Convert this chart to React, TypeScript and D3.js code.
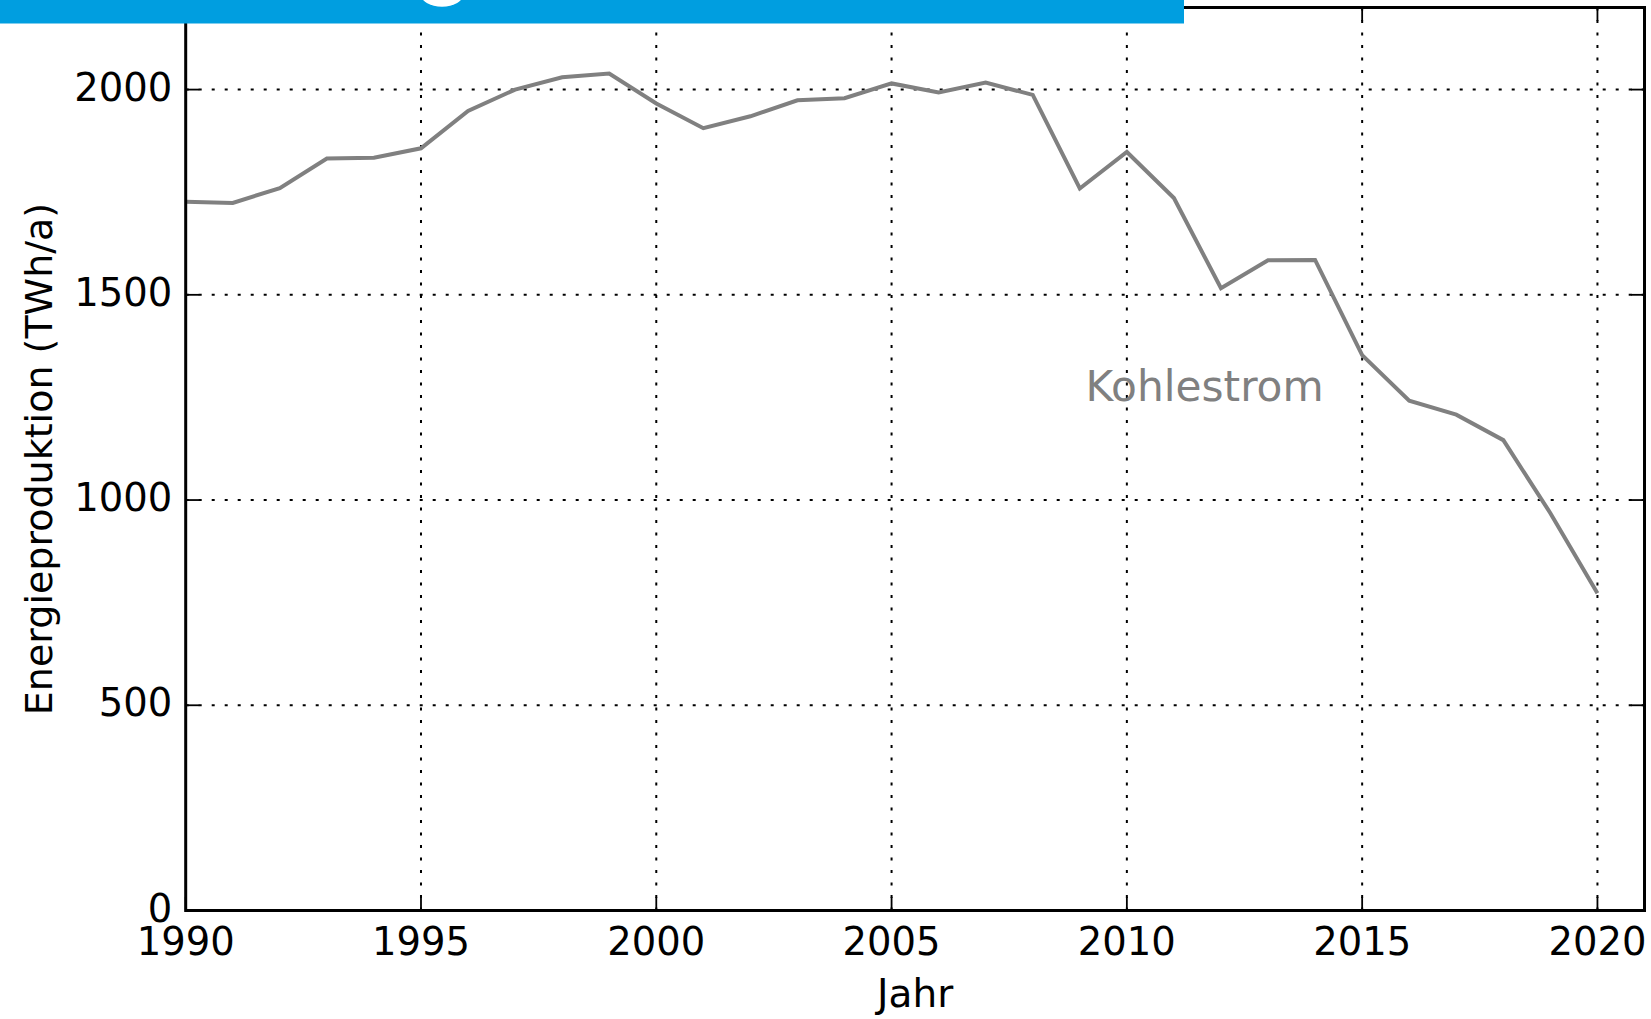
import React from "react";
import * as d3 from "d3";

const years: number[] = [
  1990, 1991, 1992, 1993, 1994, 1995, 1996, 1997, 1998, 1999,
  2000, 2001, 2002, 2003, 2004, 2005, 2006, 2007, 2008, 2009,
  2010, 2011, 2012, 2013, 2014, 2015, 2016, 2017, 2018, 2019, 2020,
];
const kohlestrom: number[] = [
  1727, 1724, 1760, 1832, 1834, 1857, 1948, 2000, 2030, 2039,
  1966, 1906, 1935, 1974, 1979, 2015, 1993, 2017, 1987, 1759,
  1848, 1736, 1516, 1584, 1585, 1353, 1242, 1208, 1146, 968, 773,
];
const xTicks: number[] = [1990, 1995, 2000, 2005, 2010, 2015, 2020];
const yTicks: number[] = [0, 500, 1000, 1500, 2000];
const seriesLabel = "Kohlestrom";
const xLabel = "Jahr";
const yLabel = "Energieproduktion (TWh/a)";

const W = 1651;
const H = 1019;
const left = 185.7;
const right = 1644.5;
const top = 7.5;
const bottom = 910.5;
const FONT = "'DejaVu Sans', sans-serif";

export default function App() {
  const x = d3.scaleLinear().domain([1990, 2021]).range([left, right]);
  const y = d3.scaleLinear().domain([0, 2200]).range([bottom, top]);
  const data = years.map((yr, i) => [yr, kohlestrom[i]] as [number, number]);
  const line = d3
    .line<[number, number]>()
    .x((d) => x(d[0]))
    .y((d) => y(d[1]));

  const tickLen = 13.5;

  return (
    <svg
      width={W}
      height={H}
      style={{ position: "absolute", left: 0, top: 0, background: "#fff" }}
      fontFamily={FONT}
    >
      <rect x={0} y={0} width={W} height={H} fill="#fff" />
      {/* grid */}
      {xTicks
        .filter((t) => t !== 1990)
        .map((t) => (
          <line
            key={"gx" + t}
            x1={x(t)}
            x2={x(t)}
            y1={bottom}
            y2={top}
            stroke="#000"
            strokeWidth={2}
            strokeDasharray="3,9.5"
          />
        ))}
      {yTicks
        .filter((t) => t !== 0)
        .map((t) => (
          <line
            key={"gy" + t}
            x1={left}
            x2={right}
            y1={y(t)}
            y2={y(t)}
            stroke="#000"
            strokeWidth={2}
            strokeDasharray="3,10"
          />
        ))}
      {/* ticks */}
      {xTicks.map((t) => (
        <g key={"tx" + t}>
          <line x1={x(t)} x2={x(t)} y1={bottom} y2={bottom - tickLen} stroke="#000" strokeWidth={1.8} />
          <line x1={x(t)} x2={x(t)} y1={top} y2={top + tickLen} stroke="#000" strokeWidth={1.8} />
          <text x={x(t)} y={bottom + 44.5} textAnchor="middle" fontSize={38.5} fill="#000">
            {t}
          </text>
        </g>
      ))}
      {yTicks.map((t) => (
        <g key={"ty" + t}>
          <line x1={left} x2={left + tickLen} y1={y(t)} y2={y(t)} stroke="#000" strokeWidth={1.8} />
          <line x1={right} x2={right - tickLen} y1={y(t)} y2={y(t)} stroke="#000" strokeWidth={1.8} />
          <text x={left - 13.5} y={y(t) + 11} textAnchor="end" fontSize={38.5} fill="#000">
            {t}
          </text>
        </g>
      ))}
      {/* data line */}
      <path
        d={line(data) || ""}
        fill="none"
        stroke="#808080"
        strokeWidth={4}
        strokeLinejoin="miter"
      />
      <text x={x(2009.12)} y={y(1241)} fontSize={42.3} fill="#808080">
        {seriesLabel}
      </text>
      {/* frame */}
      <rect
        x={left}
        y={top}
        width={right - left}
        height={bottom - top}
        fill="none"
        stroke="#000"
        strokeWidth={3}
      />
      {/* axis labels */}
      <text x={(left + right) / 2} y={1006.5} textAnchor="middle" fontSize={39} fill="#000">
        {xLabel}
      </text>
      <text
        transform={`translate(52, ${(top + bottom) / 2}) rotate(-90)`}
        textAnchor="middle"
        fontSize={38}
        fill="#000"
      >
        {yLabel}
      </text>
      {/* cut-off title banner */}
      <rect x={0} y={0} width={1184} height={23.5} fill="#009EE0" />
      <ellipse cx={442} cy={-6} rx={21.5} ry={12.7} fill="#fff" />
    </svg>
  );
}
